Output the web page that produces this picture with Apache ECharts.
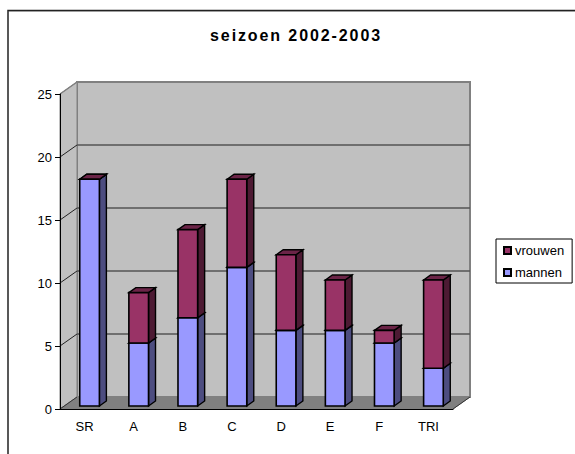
<!DOCTYPE html>
<html>
<head>
<meta charset="utf-8">
<style>
  html, body { margin: 0; padding: 0; background: #fff; }
  #chart { width: 575px; height: 454px; }
  /* the title is the only bold text; echarts has no letter spacing option */
  #chart text[style*="bold"] { letter-spacing: 1.9px; }
</style>
</head>
<body>
<div id="chart"></div>
<script src="https://cdn.jsdelivr.net/npm/echarts@6/dist/echarts.min.js"></script>
<script>
const categories = ['SR', 'A', 'B', 'C', 'D', 'E', 'F', 'TRI']
const mannen = [18, 5, 7, 11, 6, 6, 5, 3]
const vrouwen = [0, 4, 7, 7, 6, 4, 1, 7]
const yTicks = [0, 5, 10, 15, 20, 25]

// depth of the 3d box and of the bars, in pixels
const wallDx = 17
const wallDy = -12
const barDx = 7
const barDy = -5
const barShiftX = 5
const barShiftY = -3

const chart = echarts.init(document.getElementById('chart'), null, { renderer: 'svg' })

const poly = (points, fill, stroke, lineWidth) => ({
  type: 'polygon',
  shape: { points },
  style: { fill, stroke, lineWidth }
})

const line = (a, b, stroke, lineWidth) => ({
  type: 'line',
  shape: { x1: a[0], y1: a[1], x2: b[0], y2: b[1] },
  style: { stroke, lineWidth }
})

const renderWall = (params, api) => {
  const band = api.size([1, 0])[0]
  const left = api.coord([0, 0])[0] - band / 2
  const right = api.coord([categories.length - 1, 0])[0] + band / 2
  const y0 = api.coord([0, yTicks[0]])[1]
  const yTop = api.coord([0, yTicks[yTicks.length - 1]])[1]
  const y = api.coord([0, api.value(1)])[1]
  const children = []
  if (params.dataIndex === 0) {
    children.push(poly([[left + wallDx, yTop + wallDy], [right + wallDx, yTop + wallDy], [right + wallDx, y0 + wallDy], [left + wallDx, y0 + wallDy]], '#c0c0c0', '#808080', 2))
    children.push(poly([[left, yTop], [left + wallDx, yTop + wallDy], [left + wallDx, y0 + wallDy], [left, y0]], '#c0c0c0', '#808080', 1))
    children.push(poly([[left, y0], [left + wallDx, y0 + wallDy], [right + wallDx, y0 + wallDy], [right, y0]], '#808080', '#808080', 1))
    children.push(line([right, y0], [right + wallDx, y0 + wallDy], '#333', 1))
    children.push(line([left, y0], [left + wallDx, y0 + wallDy], '#333', 1))
  } else if (params.dataIndex < yTicks.length - 1) {
    children.push(line([left + wallDx, y + wallDy], [right + wallDx, y + wallDy], '#555', 1.5))
    children.push(line([left, y], [left + wallDx, y + wallDy], '#222', 1))
  } else {
    children.push(line([left, y], [left + wallDx, y + wallDy], '#808080', 1.5))
  }
  return { type: 'group', children }
}

// a zero height segment still draws its top face, as SR does for vrouwen
const makeBarRenderer = (front, side, top) => (params, api) => {
  const i = api.value(0)
  const band = api.size([1, 0])[0]
  const w = band / 2.5
  const cx = api.coord([i, 0])[0] + barShiftX
  const x1 = cx - w / 2
  const x2 = cx + w / 2
  const yLow = api.coord([i, api.value(1)])[1] + barShiftY
  const yHigh = api.coord([i, api.value(2)])[1] + barShiftY
  return {
    type: 'group',
    children: [
      poly([[x2, yLow], [x2 + barDx, yLow + barDy], [x2 + barDx, yHigh + barDy], [x2, yHigh]], side, '#000', 1.4),
      poly([[x1, yHigh], [x1 + barDx, yHigh + barDy], [x2 + barDx, yHigh + barDy], [x2, yHigh]], top, '#000', 1.4),
      poly([[x1, yLow], [x2, yLow], [x2, yHigh], [x1, yHigh]], front, '#000', 1.6)
    ]
  }
}

const mannenData = categories.map((_, i) => [i, 0, mannen[i]])
const vrouwenData = categories.map((_, i) => [i, mannen[i], mannen[i] + vrouwen[i]])

const option = {
  backgroundColor: '#fff',
  animation: false,
  title: {
    text: 'seizoen 2002-2003',
    left: 291,
    top: 22,
    textAlign: 'center',
    textStyle: { fontFamily: 'Liberation Sans', fontSize: 16, fontWeight: 'bold', color: '#000' }
  },
  legend: {
    orient: 'vertical',
    left: 496,
    top: 239,
    padding: [5, 8, 4, 7],
    itemGap: 9,
    itemWidth: 7,
    itemHeight: 7,
    borderColor: '#000',
    borderWidth: 1,
    data: [
      { name: 'vrouwen', icon: 'rect' },
      { name: 'mannen', icon: 'rect' }
    ],
    textStyle: { fontFamily: 'Liberation Sans', fontSize: 13, color: '#000', padding: [0, 0, 0, -1] }
  },
  grid: { left: 60, top: 94, width: 393, height: 315 },
  xAxis: {
    type: 'category',
    data: categories,
    z: 5,
    axisLine: { lineStyle: { color: '#000', width: 1 } },
    axisTick: { alignWithLabel: false, length: 5, lineStyle: { color: '#000' } },
    axisLabel: { fontFamily: 'Liberation Sans', fontSize: 13, color: '#000', margin: 11 }
  },
  yAxis: {
    type: 'value',
    min: 0,
    max: 25,
    interval: 5,
    z: 5,
    axisLine: { show: true, lineStyle: { color: '#000', width: 1 } },
    axisTick: { show: true, length: 5, lineStyle: { color: '#000' } },
    axisLabel: { fontFamily: 'Liberation Sans', fontSize: 13, color: '#000', margin: 8 },
    splitLine: { show: false }
  },
  series: [
    {
      type: 'custom',
      name: 'wall',
      silent: true,
      z: 1,
      encode: { x: 0, y: 1 },
      data: yTicks.map(v => [0, v]),
      renderItem: renderWall
    },
    {
      type: 'custom',
      name: 'mannen',
      z: 2,
      encode: { x: 0, y: [1, 2] },
      itemStyle: { color: '#9999ff', borderColor: '#000', borderWidth: 1.5 },
      data: mannenData,
      renderItem: makeBarRenderer('#9999ff', '#4d4d80', '#7a7acc')
    },
    {
      type: 'custom',
      name: 'vrouwen',
      z: 3,
      encode: { x: 0, y: [1, 2] },
      itemStyle: { color: '#993366', borderColor: '#000', borderWidth: 1.5 },
      data: vrouwenData,
      renderItem: makeBarRenderer('#993366', '#4d1a33', '#6b2447')
    }
  ],
  graphic: [
    {
      type: 'polyline',
      shape: { points: [[8, 454], [8, 10.5], [575, 10.5]] },
      style: { fill: 'none', stroke: '#222', lineWidth: 1.5 },
      z: 10
    },
    {
      type: 'line',
      shape: { x1: 9, y1: 11.5, x2: 575, y2: 11.5 },
      style: { stroke: '#c8c8c8', lineWidth: 1 },
      z: 9
    }
  ]
}

chart.setOption(option)
</script>
</body>
</html>
